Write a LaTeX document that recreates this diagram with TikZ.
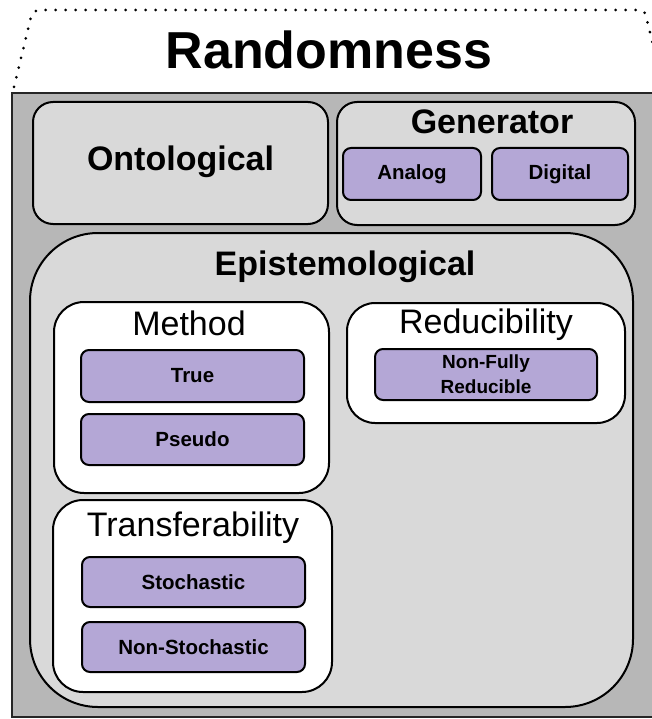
\documentclass[tikz,border=0pt]{standalone}
\usepackage{fontspec}
\setmainfont{Liberation Sans}
\definecolor{outergray}{HTML}{B7B7B7}
\definecolor{lightgray2}{HTML}{D9D9D9}
\definecolor{lavender}{HTML}{B4A7D6}
\begin{document}
\begin{tikzpicture}[x=1pt,y=-1pt,
  box/.style={draw=black, line width=2pt, rectangle, inner sep=0pt},
  graybox/.style={box, fill=lightgray2, rounded corners=20pt},
  whitebox/.style={box, fill=white, rounded corners=30pt},
  leaf/.style={box, fill=lavender, rounded corners=8pt, align=center,
    font=\bfseries\fontsize{20.5}{26}\selectfont},
  bigbold/.style={inner sep=0pt, font=\bfseries\fontsize{34}{40}\selectfont},
  bigreg/.style={inner sep=0pt, font=\fontsize{34}{40}\selectfont},
  ]
\useasboundingbox (0,0) rectangle (652,719);
\clip (0,0) rectangle (652,719);
% dotted top frame
\draw[line width=3pt, line cap=round, dash pattern=on 0pt off 10pt]
  (14,87) -- (31,17) to[out=75,in=180] (40,10) -- (640,10) to[out=0,in=105] (646,16) -- (664,90);
\node[inner sep=0pt, font=\bfseries\fontsize{52}{60}\selectfont] (title) at (329,50) {Randomness};
% outer gray area
\draw[draw=black!85, line width=2pt, fill=outergray] (12,93) rectangle (670,717);
\node[graybox, minimum width=295pt, minimum height=122pt] (onto) at (180.5,163) {};
\node[bigbold] (ontot) at (180.5,162) {Ontological};
\node[graybox, minimum width=298pt, minimum height=123pt] (gen) at (486,163.5) {};
\node[bigbold] (gent) at (492,122) {Generator};
\node[leaf, minimum width=138pt, minimum height=52pt] (analog) at (412,174) {Analog};
\node[leaf, minimum width=136pt, minimum height=52pt] (digital) at (560,174) {Digital};
% epistemological
\node[box, fill=lightgray2, rounded corners=68pt, minimum width=603pt, minimum height=474pt] (epi) at (331.5,470) {};
\node[bigbold] (epit) at (345,267) {Epistemological};
% method
\node[whitebox, minimum width=275pt, minimum height=191pt] (meth) at (191.5,397.5) {};
\node[bigreg] (metht) at (189,323) {Method};
\node[leaf, minimum width=223pt, minimum height=52pt] (true) at (192.5,376) {True};
\node[leaf, minimum width=223pt, minimum height=51pt] (pseudo) at (192.5,439.5) {Pseudo};
% transferability
\node[whitebox, minimum width=279pt, minimum height=192pt] (trans) at (192.5,596) {};
\node[bigreg] (transt) at (193,528) {Transferability};
\node[leaf, minimum width=223pt, minimum height=50pt] (stoch) at (193.5,582) {Stochastic};
\node[leaf, minimum width=223pt, minimum height=50pt] (nonstoch) at (193.5,647) {Non-Stochastic};
% reducibility
\node[whitebox, rounded corners=28pt, minimum width=278pt, minimum height=120pt] (red) at (486,363) {};
\node[bigreg] (redt) at (486,325) {Reducibility};
\node[leaf, minimum width=222pt, minimum height=51pt, font=\bfseries\fontsize{19}{25}\selectfont] (nonfully) at (486,374.5) {Non-Fully\\Reducible};
\end{tikzpicture}
\end{document}
